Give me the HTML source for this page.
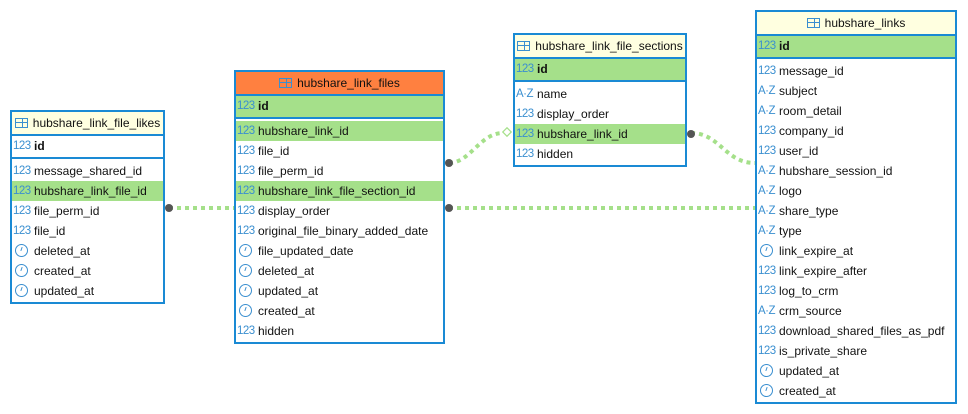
<!DOCTYPE html>
<html><head><meta charset="utf-8"><style>
body{margin:0;width:968px;height:414px;background:#fff;position:relative;overflow:hidden;font-family:"Liberation Sans",sans-serif;font-size:12px;color:#111}
.t{position:absolute;border:2px solid #1a8ad4;background:#fff;box-sizing:border-box}
.h{height:22px;line-height:22px;text-align:center;background:#ffffe0;border-bottom:2px solid #1a8ad4;white-space:nowrap}
.h.o{background:#ff8040}
.r{height:20px;line-height:20px;position:relative;padding-left:22px;white-space:nowrap}
.g{background:#a5e08a}
.pk{height:21px;line-height:21px;font-weight:bold;border-bottom:2px solid #1a8ad4;margin-bottom:2px}
.i{position:absolute;left:1px;top:0;color:#3a8fd0;font-size:11.5px;font-weight:normal;width:20px;text-align:left;letter-spacing:-0.5px}
.c{position:absolute;left:3px;top:3px;width:11px;height:11px;border:1px solid #3a8fd0;border-radius:50%}
.c:after{content:"";position:absolute;left:5px;top:2px;width:1px;height:4px;background:#3a8fd0;transform:rotate(20deg)}
.tb{display:inline-block;width:13px;height:10px;border:1px solid #3a8fd0;vertical-align:-1px;margin-right:5px;background:linear-gradient(#3a8fd0,#3a8fd0) 0 3px/100% 1px no-repeat,linear-gradient(#3a8fd0,#3a8fd0) 6px 0/1px 100% no-repeat;box-sizing:border-box}
svg{position:absolute;left:0;top:0}
</style></head><body>
<svg width="968" height="414">
<g stroke="#a5e08a" stroke-width="4" stroke-dasharray="4 4" fill="none">
<path d="M169 208 H234"/>
<path d="M449 208 H755"/>
<path d="M449 163 C470 163,480 133,503 133"/>
<path d="M691 133 C720 133,725 163,755 163"/>
</g>
<rect x="504" y="129" width="6" height="6" transform="rotate(45 507 132)" fill="#fff" stroke="#a5e08a" stroke-width="1.2"/>
<g fill="#555"><circle cx="169" cy="208" r="4"/><circle cx="449" cy="208" r="4"/><circle cx="449" cy="163" r="4"/><circle cx="691" cy="134" r="4"/></g>
</svg>

<div class="t" style="left:10px;top:110px;width:155px;height:194px">
<div class="h"><span class="tb"></span>hubshare_link_file_likes</div>
<div class="r pk" style="background:#fff"><span class="i">123</span>id</div>
<div class="r"><span class="i">123</span>message_shared_id</div>
<div class="r g"><span class="i">123</span>hubshare_link_file_id</div>
<div class="r"><span class="i">123</span>file_perm_id</div>
<div class="r"><span class="i">123</span>file_id</div>
<div class="r"><span class="c"></span>deleted_at</div>
<div class="r"><span class="c"></span>created_at</div>
<div class="r"><span class="c"></span>updated_at</div>
</div>

<div class="t" style="left:234px;top:70px;width:211px;height:274px">
<div class="h o"><span class="tb"></span>hubshare_link_files</div>
<div class="r pk g"><span class="i">123</span>id</div>
<div class="r g"><span class="i">123</span>hubshare_link_id</div>
<div class="r"><span class="i">123</span>file_id</div>
<div class="r"><span class="i">123</span>file_perm_id</div>
<div class="r g"><span class="i">123</span>hubshare_link_file_section_id</div>
<div class="r"><span class="i">123</span>display_order</div>
<div class="r"><span class="i">123</span>original_file_binary_added_date</div>
<div class="r"><span class="c"></span>file_updated_date</div>
<div class="r"><span class="c"></span>deleted_at</div>
<div class="r"><span class="c"></span>updated_at</div>
<div class="r"><span class="c"></span>created_at</div>
<div class="r"><span class="i">123</span>hidden</div>
</div>

<div class="t" style="left:513px;top:33px;width:174px;height:134px">
<div class="h"><span class="tb"></span>hubshare_link_file_sections</div>
<div class="r pk g"><span class="i">123</span>id</div>
<div class="r"><span class="i">A·Z</span>name</div>
<div class="r"><span class="i">123</span>display_order</div>
<div class="r g"><span class="i">123</span>hubshare_link_id</div>
<div class="r"><span class="i">123</span>hidden</div>
</div>

<div class="t" style="left:755px;top:10px;width:202px;height:394px">
<div class="h"><span class="tb"></span>hubshare_links</div>
<div class="r pk g"><span class="i">123</span>id</div>
<div class="r"><span class="i">123</span>message_id</div>
<div class="r"><span class="i">A·Z</span>subject</div>
<div class="r"><span class="i">A·Z</span>room_detail</div>
<div class="r"><span class="i">123</span>company_id</div>
<div class="r"><span class="i">123</span>user_id</div>
<div class="r"><span class="i">A·Z</span>hubshare_session_id</div>
<div class="r"><span class="i">A·Z</span>logo</div>
<div class="r"><span class="i">A·Z</span>share_type</div>
<div class="r"><span class="i">A·Z</span>type</div>
<div class="r"><span class="c"></span>link_expire_at</div>
<div class="r"><span class="i">123</span>link_expire_after</div>
<div class="r"><span class="i">123</span>log_to_crm</div>
<div class="r"><span class="i">A·Z</span>crm_source</div>
<div class="r"><span class="i">123</span>download_shared_files_as_pdf</div>
<div class="r"><span class="i">123</span>is_private_share</div>
<div class="r"><span class="c"></span>updated_at</div>
<div class="r"><span class="c"></span>created_at</div>
</div>
</body></html>
